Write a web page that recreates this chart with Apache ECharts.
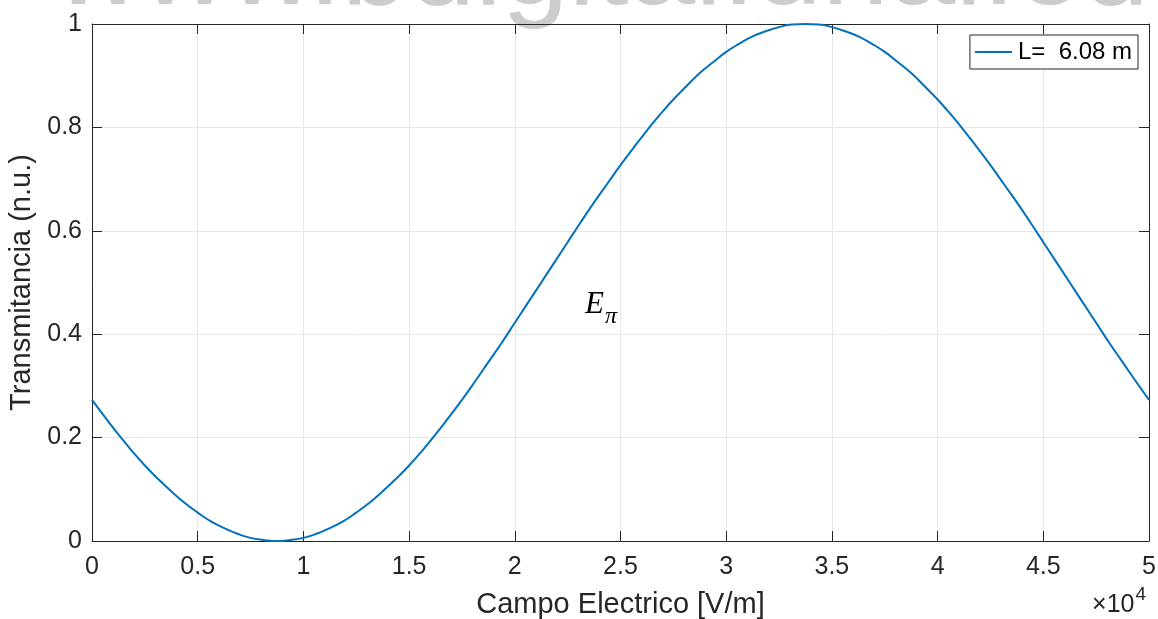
<!DOCTYPE html>
<html>
<head>
<meta charset="utf-8">
<script src="https://cdn.jsdelivr.net/npm/echarts@6/dist/echarts.min.js"></script>
<style>html,body{margin:0;padding:0;background:#fff}#c{width:1158px;height:619px}</style>
</head>
<body>
<div id="c"></div>
<script>
// Campo eléctrico (×10^4 V/m)
const campo = [0,0.0625,0.125,0.1875,0.25,0.3125,0.375,0.4375,0.5,0.5625,0.625,0.6875,0.75,0.8125,0.875,0.9375,
  1,1.0625,1.125,1.1875,1.25,1.3125,1.375,1.4375,1.5,1.5625,1.625,1.6875,1.75,1.8125,1.875,1.9375,
  2,2.0625,2.125,2.1875,2.25,2.3125,2.375,2.4375,2.5,2.5625,2.625,2.6875,2.75,2.8125,2.875,2.9375,
  3,3.0625,3.125,3.1875,3.25,3.3125,3.375,3.4375,3.5,3.5625,3.625,3.6875,3.75,3.8125,3.875,3.9375,
  4,4.0625,4.125,4.1875,4.25,4.3125,4.375,4.4375,4.5,4.5625,4.625,4.6875,4.75,4.8125,4.875,4.9375,5];
// Transmitancia (n.u.)
const transmitancia = [0.273,0.239,0.206,0.175,0.146,0.120,0.096,0.074,0.055,0.038,0.025,0.014,0.006,0.002,0.000,0.002,
  0.006,0.014,0.025,0.038,0.055,0.074,0.096,0.120,0.146,0.175,0.206,0.239,0.273,0.309,0.346,0.383,
  0.422,0.461,0.500,0.539,0.578,0.617,0.655,0.691,0.727,0.761,0.794,0.825,0.854,0.880,0.905,0.926,
  0.946,0.962,0.976,0.986,0.994,0.999,1.000,0.999,0.994,0.986,0.976,0.962,0.946,0.926,0.905,0.880,
  0.854,0.825,0.794,0.761,0.727,0.691,0.655,0.617,0.578,0.539,0.500,0.461,0.422,0.383,0.346,0.309,0.273];
const xTicks = ['0','0.5','1','1.5','2','2.5','3','3.5','4','4.5','5'];
const yTicks = ['0','0.2','0.4','0.6','0.8','1'];
const seriesName = 'L=  6.08 m';

const chart = echarts.init(document.getElementById('c'));
const font = 'Liberation Sans, Arial, Helvetica, sans-serif';
const serif = 'Liberation Serif, DejaVu Serif, serif';
const axisCol = '#262626';
const gridCol = '#e6e6e6';
function baseX() {
  return {
    type: 'value', min: 0, max: 5, interval: 0.5,
    axisLine: {show: true, onZero: false, lineStyle: {color: axisCol, width: 1}},
    axisTick: {show: true, inside: true, length: 10, lineStyle: {color: axisCol}},
    splitLine: {show: false}
  };
}
function baseY() {
  return {
    type: 'value', min: 0, max: 1, interval: 0.2,
    axisLine: {show: true, onZero: false, lineStyle: {color: axisCol, width: 1}},
    axisTick: {show: true, inside: true, length: 10, lineStyle: {color: axisCol}},
    splitLine: {show: false}
  };
}
chart.setOption({
  animation: false,
  backgroundColor: '#fff',
  grid: {left: 92, right: 9, top: 24, bottom: 78, containLabel: false, outerBoundsMode: 'none'},
  xAxis: [
    Object.assign(baseX(), {
      position: 'bottom',
      splitLine: {show: true, lineStyle: {color: gridCol, width: 1}},
      axisLabel: {show: true, margin: 14, color: axisCol, fontSize: 25, fontFamily: font,
        formatter: v => xTicks[Math.round(v / 0.5)]},
      name: 'Campo Electrico [V/m]', nameLocation: 'middle', nameGap: 49,
      nameTextStyle: {color: axisCol, fontSize: 29, fontFamily: font}
    }),
    Object.assign(baseX(), {position: 'top', axisLabel: {show: false}})
  ],
  yAxis: [
    Object.assign(baseY(), {
      position: 'left',
      splitLine: {show: true, lineStyle: {color: gridCol, width: 1}},
      axisLabel: {show: true, margin: 10, color: axisCol, fontSize: 25, fontFamily: font,
        padding: [3, 0, 0, 0],
        formatter: v => yTicks[Math.round(v / 0.2)]},
      name: 'Transmitancia (n.u.)', nameLocation: 'middle', nameGap: 45,
      nameTextStyle: {color: axisCol, fontSize: 29, fontFamily: font}
    }),
    Object.assign(baseY(), {position: 'right', axisLabel: {show: false}})
  ],
  legend: {
    show: true, right: 20, top: 35, orient: 'vertical',
    data: [seriesName],
    itemWidth: 37, itemHeight: 2, itemGap: 0,
    icon: 'rect',
    padding: [5, 6, 5, 5],
    borderColor: '#262626', borderWidth: 1, borderRadius: 0,
    backgroundColor: '#fff',
    textStyle: {color: '#000', fontSize: 24, fontFamily: font, padding: [0, 0, 0, 1]}
  },
  series: [{
    name: seriesName, type: 'line', smooth: true, showSymbol: false, symbol: 'none',
    data: campo.map((e, i) => [e, transmitancia[i]]),
    lineStyle: {color: '#0072BD', width: 2},
    itemStyle: {color: '#0072BD'},
    z: 3
  }],
  graphic: [
    {type: 'text', left: 55, top: -89, silent: true, z: -10,
      style: {text: 'www.bdigital.unal.edu.co', fill: '#cccccc', fontSize: 120, fontFamily: font}},
    {type: 'text', left: 585, top: 289, silent: true,
      style: {text: '{e|E}{p|π}', fill: '#000',
        rich: {e: {fontSize: 31, fontStyle: 'italic', fontFamily: serif, fill: '#000', verticalAlign: 'bottom', padding: [0, 0, 9, 0]},
               p: {fontSize: 24, fontStyle: 'italic', fontFamily: serif, fill: '#000', verticalAlign: 'bottom', padding: [0, 0, 0, 1]}}}},
    {type: 'text', right: 12, top: 585, silent: true,
      style: {text: '{a|×10}{b|4}', fill: axisCol,
        rich: {a: {fontSize: 25, fontFamily: font, fill: axisCol, padding: [12, 0, 0, 0]},
               b: {fontSize: 19, fontFamily: font, fill: axisCol, padding: [0, 0, 10, 1]}}}}
  ]
});
</script>
</body>
</html>
